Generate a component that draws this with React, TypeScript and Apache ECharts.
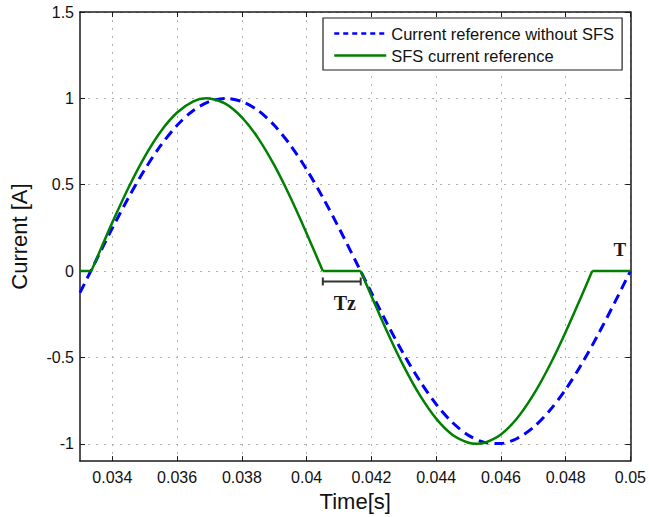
import React, { useEffect, useRef } from "react";
import * as echarts from "echarts";

// Time axis ticks [s]
const xTicks = [0.034, 0.036, 0.038, 0.04, 0.042, 0.044, 0.046, 0.048, 0.05];
const yTicks = [-1, -0.5, 0, 0.5, 1, 1.5];

// Current reference without SFS
const refTime = [
  0.033, 0.0335, 0.034, 0.0345, 0.035, 0.0355, 0.036, 0.0365, 0.037, 0.0375,
  0.038, 0.0385, 0.039, 0.0395, 0.04, 0.0405, 0.041, 0.0415, 0.042, 0.0425,
  0.043, 0.0435, 0.044, 0.0445, 0.045, 0.0455, 0.046, 0.0465, 0.047, 0.0475,
  0.048, 0.0485, 0.049, 0.0495, 0.05,
];
const refCurrent = [
  -0.125, 0.063, 0.249, 0.426, 0.588, 0.729, 0.844, 0.93, 0.982, 1.0,
  0.982, 0.93, 0.844, 0.729, 0.588, 0.426, 0.249, 0.063, -0.125, -0.309,
  -0.482, -0.637, -0.771, -0.876, -0.951, -0.992, -0.998, -0.969, -0.905, -0.809,
  -0.685, -0.536, -0.368, -0.187, 0.0,
];

// SFS current reference
const sfsTime = [
  0.033, 0.03335, 0.0335, 0.034, 0.0345, 0.035, 0.0355, 0.036, 0.0365, 0.0369,
  0.037, 0.0375, 0.038, 0.0385, 0.039, 0.0395, 0.04, 0.0405, 0.04167, 0.042,
  0.0425, 0.043, 0.0435, 0.044, 0.0445, 0.045, 0.04525, 0.0455, 0.046, 0.0465,
  0.047, 0.0475, 0.048, 0.0485, 0.04882, 0.05,
];
const sfsCurrent = [
  0, 0, 0.066, 0.282, 0.484, 0.663, 0.81, 0.918, 0.983, 1.0,
  0.999, 0.968, 0.89, 0.77, 0.613, 0.426, 0.218, 0, 0, -0.144,
  -0.357, -0.552, -0.72, -0.854, -0.947, -0.994, -1.0, -0.994, -0.946, -0.852,
  -0.717, -0.548, -0.352, -0.14, 0, 0,
];

// Annotations: Tz interval and period end T
const tzInterval = [0.0405, 0.04167];
const tzBarLevel = -0.06;
const tzLabelPos = [0.04118, -0.185];
const tLabelPos = [0.04967, 0.125];

const SERIES_REF = "Current reference without SFS";
const SERIES_SFS = "SFS current reference";

export default function App() {
  const ref = useRef<HTMLDivElement>(null);

  useEffect(() => {
    document.body.style.margin = "0";
    if (!ref.current) return;
    const chart = echarts.init(ref.current, undefined, { renderer: "svg" });

    const font = "'Liberation Sans', Arial, Helvetica, sans-serif";
    const axisColor = "#1a1a1a";
    const fmt = (v: number) => String(+Number(v).toFixed(4));

    const refData = refTime.map((t, i) => [t, refCurrent[i]]);
    const sfsData: any[] = sfsTime.map((t, i) => [t, sfsCurrent[i]]);
    // split the SFS waveform into its sinusoidal halves (smoothed) and zero dwell parts (straight)
    const sfsWave = [...sfsData.slice(1, 18), "-", ...sfsData.slice(18, 35)];
    const sfsFlat = [sfsData[0], sfsData[1], "-", sfsData[17], sfsData[18], "-", sfsData[34], sfsData[35]];

    const commonX = {
      type: "value",
      min: 0.033,
      max: 0.05,
      axisLine: { show: true, onZero: false, lineStyle: { color: axisColor, width: 1.5 } },
    };
    const commonY = {
      type: "value",
      min: -1.1,
      max: 1.5,
      axisLine: { show: true, onZero: false, lineStyle: { color: axisColor, width: 1.5 } },
    };

    const green = { color: "#008000", width: 2.5, type: "solid" };

    chart.setOption({
      animation: false,
      backgroundColor: "#ffffff",
      textStyle: { fontFamily: font },
      grid: { left: 79, right: 17, top: 12, bottom: 55, containLabel: false },
      legend: {
        show: true,
        orient: "vertical",
        left: 323,
        top: 18,
        padding: [7, 8, 6, 10],
        itemWidth: 52,
        itemHeight: 16,
        itemGap: 5,
        itemTextGap: 5,
        backgroundColor: "#ffffff",
        borderColor: "#222",
        borderWidth: 1.2,
        borderRadius: 0,
        textStyle: { fontSize: 16.5, color: "#111", fontFamily: font },
        data: [
          { name: SERIES_REF, itemStyle: { opacity: 0 }, lineStyle: { type: [5, 4], width: 2.5, color: "#0000ff" } },
          { name: SERIES_SFS, itemStyle: { opacity: 0 }, lineStyle: { type: "solid", width: 2.5, color: "#008000" } },
        ],
      },
      xAxis: [
        {
          ...commonX,
          position: "bottom",
          name: "Time[s]",
          nameLocation: "middle",
          nameGap: 28,
          nameTextStyle: { fontSize: 22, color: "#111", fontFamily: font },
          axisTick: { show: true, inside: true, length: 5, customValues: xTicks, lineStyle: { color: axisColor } },
          axisLabel: { show: true, customValues: xTicks, margin: 8, fontSize: 16, color: "#111", formatter: fmt },
          splitLine: { show: true, lineStyle: { color: "#b0b0b0", type: [2, 6], width: 1 } },
        },
        {
          ...commonX,
          position: "top",
          axisTick: { show: true, inside: true, length: 5, customValues: xTicks, lineStyle: { color: axisColor } },
          axisLabel: { show: false },
          splitLine: { show: false },
        },
      ],
      yAxis: [
        {
          ...commonY,
          position: "left",
          name: "Current [A]",
          nameLocation: "middle",
          nameGap: 50,
          nameTextStyle: { fontSize: 22, color: "#111", fontFamily: font },
          axisTick: { show: true, inside: true, length: 5, customValues: yTicks, lineStyle: { color: axisColor } },
          axisLabel: { show: true, customValues: yTicks, margin: 6, fontSize: 16, color: "#111", formatter: fmt },
          splitLine: { show: true, lineStyle: { color: "#b0b0b0", type: [2, 6], width: 1 } },
        },
        {
          ...commonY,
          position: "right",
          axisTick: { show: true, inside: true, length: 5, customValues: yTicks, lineStyle: { color: axisColor } },
          axisLabel: { show: false },
          splitLine: { show: false },
        },
      ],
      series: [
        {
          name: SERIES_REF,
          type: "line",
          xAxisIndex: 0,
          yAxisIndex: 0,
          data: refData,
          showSymbol: false,
          symbol: "none",
          smooth: 0.3,
          color: "#0000ff",
          lineStyle: { color: "#0000ff", width: 3, type: [10, 6] },
          z: 2,
        },
        {
          name: SERIES_SFS,
          type: "line",
          xAxisIndex: 0,
          yAxisIndex: 0,
          data: sfsWave,
          showSymbol: false,
          symbol: "none",
          smooth: 0.3,
          connectNulls: false,
          color: "#008000",
          lineStyle: green,
          z: 3,
        },
        {
          name: SERIES_SFS,
          type: "line",
          xAxisIndex: 0,
          yAxisIndex: 0,
          data: sfsFlat,
          showSymbol: false,
          symbol: "none",
          smooth: false,
          connectNulls: false,
          color: "#008000",
          lineStyle: green,
          z: 3,
        },
        {
          name: "annotations",
          type: "custom",
          xAxisIndex: 0,
          yAxisIndex: 0,
          clip: false,
          silent: true,
          z: 4,
          data: [[tzInterval[0], tzInterval[1], tzBarLevel]],
          renderItem: (params: any, api: any) => {
            const a = api.coord([api.value(0), api.value(2)]);
            const b = api.coord([api.value(1), api.value(2)]);
            const tz = api.coord(tzLabelPos);
            const tp = api.coord(tLabelPos);
            const stroke = { stroke: "#333", lineWidth: 2 };
            return {
              type: "group",
              children: [
                { type: "line", shape: { x1: a[0], y1: a[1], x2: b[0], y2: b[1] }, style: stroke },
                { type: "line", shape: { x1: a[0], y1: a[1] - 4, x2: a[0], y2: a[1] + 4 }, style: stroke },
                { type: "line", shape: { x1: b[0], y1: b[1] - 4, x2: b[0], y2: b[1] + 4 }, style: stroke },
                {
                  type: "text",
                  style: {
                    text: "Tz",
                    x: tz[0],
                    y: tz[1],
                    align: "center",
                    verticalAlign: "middle",
                    font: "bold 20px 'Liberation Serif', 'Times New Roman', serif",
                    fill: "#1a1a1a",
                  },
                },
                {
                  type: "text",
                  style: {
                    text: "T",
                    x: tp[0],
                    y: tp[1],
                    align: "center",
                    verticalAlign: "middle",
                    font: "bold 19px 'Liberation Serif', 'Times New Roman', serif",
                    fill: "#1a1a1a",
                  },
                },
              ],
            };
          },
        },
      ],
    });

    return () => chart.dispose();
  }, []);

  return <div ref={ref} style={{ width: 649, height: 517 }} />;
}
